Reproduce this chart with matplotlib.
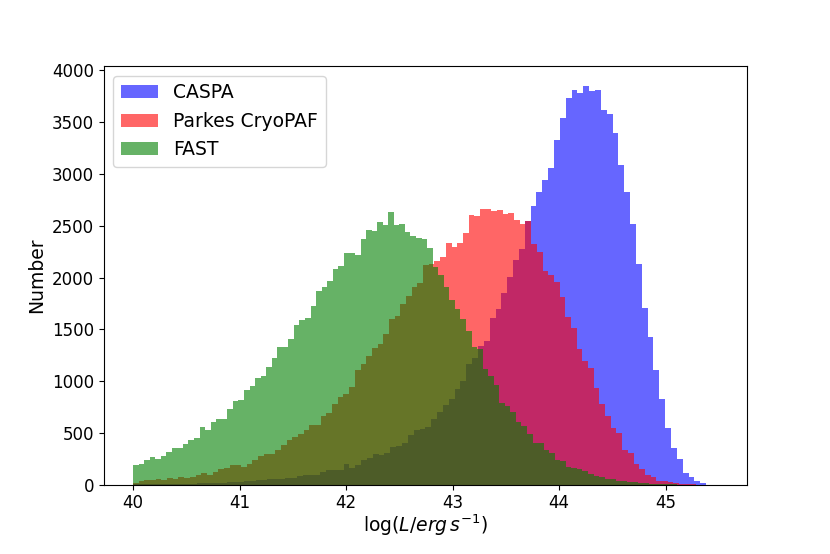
import matplotlib
matplotlib.use('Agg')
import matplotlib.pyplot as plt
import numpy as np

# bin ranges of each sample (100 bins each)
caspa_range = (40.0, 45.49)
parkes_range = (40.0, 45.34)
fast_range = (40.0, 45.21)

caspa_counts = [3, 4, 5, 6, 6, 7, 8, 9, 10, 11,
                12, 14, 15, 16, 18, 20, 22, 25, 28, 32,
                37, 43, 50, 53, 56, 59, 63, 69, 82, 95,
                98, 92, 120, 140, 143, 146, 198, 159, 191, 243,
                262, 294, 284, 310, 364, 374, 403, 477, 525, 535,
                557, 638, 702, 766, 831, 927, 1001, 1161, 1219, 1340,
                1388, 1607, 1696, 1848, 2008, 2169, 2272, 2545, 2689, 2831,
                2940, 3062, 3332, 3537, 3733, 3814, 3781, 3846, 3800, 3814,
                3621, 3583, 3396, 3084, 2827, 2513, 2127, 1709, 1429, 1108,
                829, 546, 353, 248, 112, 74, 39, 20, 2, 1]

parkes_counts = [21, 34, 43, 43, 59, 50, 69, 56, 79, 66,
                 76, 95, 111, 98, 124, 149, 162, 188, 192, 175,
                 203, 239, 275, 297, 294, 339, 381, 429, 458, 490,
                 525, 574, 580, 663, 696, 779, 843, 872, 943, 1104,
                 1168, 1245, 1316, 1361, 1451, 1598, 1634, 1743, 1827, 1913,
                 1945, 2125, 2135, 2164, 2202, 2334, 2299, 2331, 2434, 2607,
                 2590, 2666, 2666, 2641, 2657, 2618, 2628, 2554, 2516, 2545,
                 2329, 2249, 2067, 2024, 1960, 1815, 1622, 1516, 1308, 1199,
                 1125, 932, 781, 668, 552, 498, 337, 306, 199, 151,
                 96, 74, 39, 35, 22, 16, 10, 5, 3, 2]

fast_counts = [194, 203, 236, 268, 252, 278, 320, 355, 355, 390,
               432, 448, 557, 528, 602, 631, 631, 728, 808, 814,
               917, 956, 1033, 1046, 1133, 1219, 1328, 1328, 1412, 1547,
               1595, 1614, 1730, 1872, 1910, 1971, 2084, 2113, 2234, 2237,
               2219, 2369, 2463, 2446, 2537, 2511, 2630, 2511, 2518, 2443,
               2402, 2379, 2373, 2286, 2100, 2029, 1913, 1785, 1698, 1602,
               1489, 1330, 1310, 1115, 1051, 964, 787, 765, 707, 610,
               569, 489, 402, 402, 331, 306, 241, 234, 170, 161,
               151, 129, 103, 87, 74, 55, 55, 39, 35, 26,
               22, 16, 13, 10, 8, 6, 5, 3, 2, 1]

edges_caspa = np.linspace(*caspa_range, len(caspa_counts) + 1)
edges_parkes = np.linspace(*parkes_range, len(parkes_counts) + 1)
edges_fast = np.linspace(*fast_range, len(fast_counts) + 1)

fig = plt.figure(figsize=(8.3, 5.54), dpi=100)
ax = fig.add_subplot(111)
fig.subplots_adjust(left=0.125, right=0.9, top=0.88, bottom=0.125)

ax.hist(edges_caspa[:-1], bins=edges_caspa, weights=caspa_counts, color='b', alpha=0.6, label='CASPA')
ax.hist(edges_parkes[:-1], bins=edges_parkes, weights=parkes_counts, color='r', alpha=0.6, label='Parkes CryoPAF')
ax.hist(edges_fast[:-1], bins=edges_fast, weights=fast_counts, color='g', alpha=0.6, label='FAST')

ax.set_xlabel(r'log($L/erg\,s^{-1}$)', fontsize=13.5, labelpad=0)
ax.set_ylabel('Number', fontsize=13.5)
ax.tick_params(labelsize=12)
ax.legend(loc='upper left', fontsize=13.5)

fig.savefig('out.png', dpi=100)
